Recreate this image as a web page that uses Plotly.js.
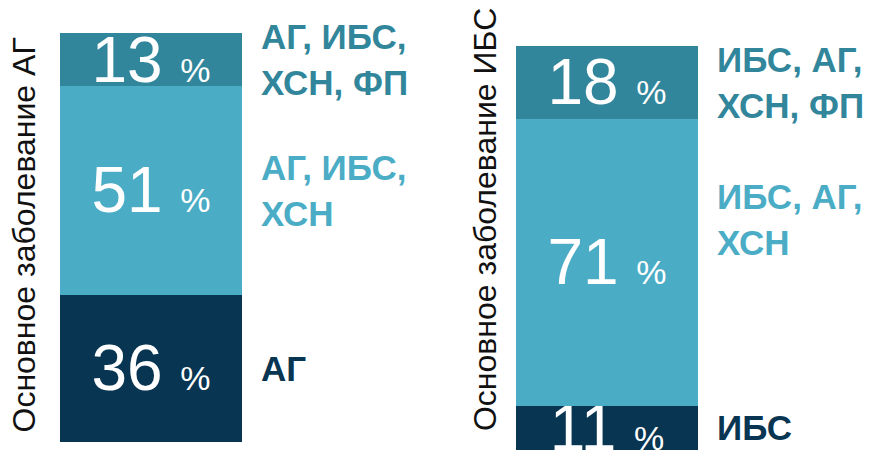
<!DOCTYPE html>
<html>
<head>
<meta charset="utf-8">
<script src="https://cdn.plot.ly/plotly-3.0.1.min.js"></script>
<style>html,body{margin:0;padding:0;background:#fff;}#chart{width:877px;height:450px;}</style>
</head>
<body>
<div id="chart"></div>
<script>
// ---- data ----
const axisTitleLeft = 'Основное заболевание АГ';
const axisTitleRight = 'Основное заболевание ИБС';
const groupsLeft = ['АГ', 'АГ, ИБС,<br>ХСН', 'АГ, ИБС,<br>ХСН, ФП'];
const valuesLeft = [36, 51, 13];
const groupsRight = ['ИБС', 'ИБС, АГ,<br>ХСН', 'ИБС, АГ,<br>ХСН, ФП'];
const valuesRight = [11, 71, 18];
const segmentColors = ['#073552', '#4BACC6', '#31869B'];

const FONT = 'Arial, "Liberation Sans", sans-serif';

function pctText(v) {
  return v + ' <span style="font-size:34px">%</span>';
}

const traces = [];
const annotations = [];

function addBar(groups, values, xa, ya, labelShift) {
  let base = 0;
  groups.forEach((g, i) => {
    traces.push({
      type: 'bar',
      x: [0],
      y: [values[i]],
      xaxis: xa,
      yaxis: ya,
      width: 1,
      marker: {color: segmentColors[i], line: {width: 0}},
      text: [pctText(values[i])],
      textposition: 'inside',
      insidetextanchor: 'middle',
      constraintext: 'none',
      textangle: 0,
      textfont: {family: FONT, size: 64, color: '#ffffff'},
      hoverinfo: 'skip',
      showlegend: false
    });
    annotations.push({
      xref: xa, yref: ya,
      x: 0.5, y: base + values[i] / 2,
      xanchor: 'left', yanchor: 'middle', align: 'left',
      xshift: 17, yshift: labelShift[i],
      showarrow: false,
      text: '<b>' + g + '</b>',
      font: {family: FONT, size: 35, color: segmentColors[i]}
    });
    base += values[i];
  });
}

addBar(groupsLeft, valuesLeft, 'x', 'y', [0, 0, 0]);
addBar(groupsRight, valuesRight, 'x2', 'y2', [0, 43, 0]);

annotations.push({
  xref: 'paper', yref: 'paper', x: 24 / 877, y: 0.4767,
  xanchor: 'center', yanchor: 'middle', textangle: -90, showarrow: false,
  text: axisTitleLeft, font: {family: FONT, size: 32, color: '#111111'}
});
annotations.push({
  xref: 'paper', yref: 'paper', x: 485 / 877, y: 0.511,
  xanchor: 'center', yanchor: 'middle', textangle: -90, showarrow: false,
  text: axisTitleRight, font: {family: FONT, size: 32, color: '#111111'}
});

const hidden = {showgrid: false, zeroline: false, showline: false, showticklabels: false, ticks: '', fixedrange: true};

const layout = {
  width: 877, height: 450,
  margin: {l: 0, r: 0, t: 0, b: 0},
  paper_bgcolor: '#ffffff', plot_bgcolor: 'rgba(0,0,0,0)',
  barmode: 'stack',
  showlegend: false,
  xaxis: Object.assign({}, hidden, {domain: [60 / 877, 242 / 877], range: [-0.5, 0.5]}),
  yaxis: Object.assign({}, hidden, {domain: [8 / 450, 417 / 450], range: [0, 100]}),
  xaxis2: Object.assign({}, hidden, {domain: [516 / 877, 698 / 877], range: [-0.5, 0.5], anchor: 'y2'}),
  yaxis2: Object.assign({}, hidden, {domain: [0, 404 / 450], range: [0, 100], anchor: 'x2'}),
  annotations: annotations
};

Plotly.newPlot('chart', traces, layout, {staticPlot: true, displayModeBar: false});
</script>
</body>
</html>
